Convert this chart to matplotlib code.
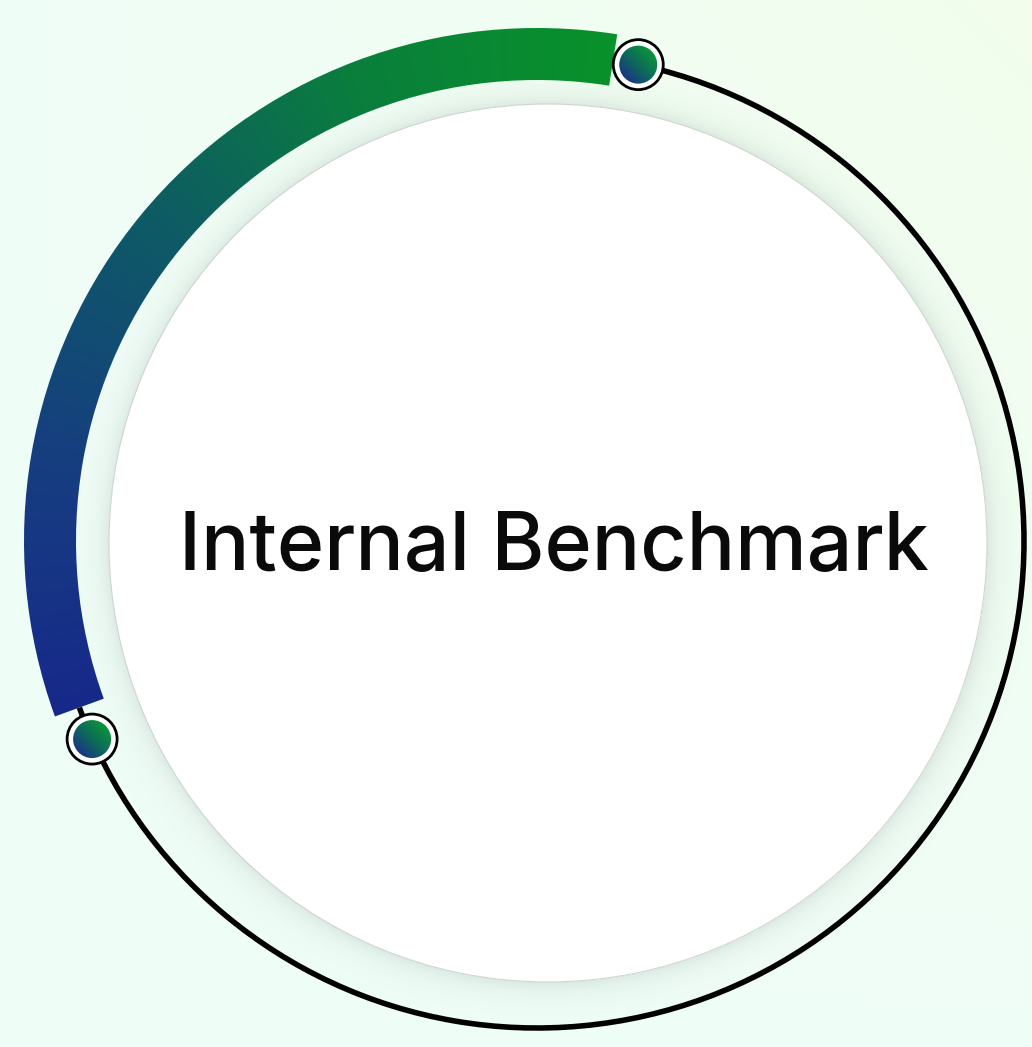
import numpy as np
import matplotlib
matplotlib.use("Agg")
import matplotlib.pyplot as plt
from matplotlib.patches import Wedge, Circle, Arc
from matplotlib.colors import LinearSegmentedColormap

# ---------------- data ----------------
center_label = "Internal Benchmark"
band_start_deg = 81      # green end (top)
band_end_deg = 200       # navy end (lower left)
marker_angles_deg = [78, 204]
band_colors = ["#08922a", "#0a7f3c", "#0e5a66", "#163e80", "#16298a"]
band_color_pos = [0.0, 0.25, 0.5, 0.75, 1.0]

# ---------------- layout ----------------
W, H = 1032, 1047
cx, cy = 537, H - 541          # ring centre (y up)
ring_r = 487
band_w = 52
in_cx, in_cy, in_r = 548, H - 543, 439

fig = plt.figure(figsize=(W / 100, H / 100), dpi=100)
ax = fig.add_axes([0, 0, 1, 1])
ax.axis("off")

# background gradient
yy, xx = np.mgrid[0:H, 0:W]
base = np.array([0.937, 0.993, 0.968])
tr = np.array([0.950, 0.995, 0.925])
w = np.clip((xx / W) * (1 - yy / H), 0, 1)[..., None] ** 1.2
bg = base * (1 - w) + tr * w
ax.imshow(bg, extent=(0, W, 0, H), origin="upper", aspect="auto", zorder=0)

# shadow around inner circle
d = np.hypot(xx - in_cx, (H - yy) - in_cy)
alpha = np.where(d > in_r, 0.20 * np.exp(-(d - in_r) / 12.0), 0.0)
sh = np.zeros((H, W, 4))
sh[..., 0:3] = [0.55, 0.62, 0.59]
sh[..., 3] = alpha
ax.imshow(sh, extent=(0, W, 0, H), origin="upper", aspect="auto", zorder=1)

# inner white disk
ax.add_patch(Circle((in_cx, in_cy), in_r, fc="white", ec="#cfd6d2", lw=0.8, zorder=2))

# black ring (remaining part)
ax.add_patch(Arc((cx, cy), 2 * ring_r, 2 * ring_r, theta1=band_end_deg,
                 theta2=band_start_deg + 360, lw=4.0, color="black", zorder=3))

# gradient band
cmap = LinearSegmentedColormap.from_list("band", list(zip(band_color_pos, band_colors)))
ang = np.degrees(np.arctan2((H - yy) - cy, xx - cx)) % 360
t = np.clip((ang - band_start_deg) / (band_end_deg - band_start_deg), 0, 1)
band_img = ax.imshow(cmap(t), extent=(0, W, 0, H), origin="upper", aspect="auto", zorder=4)
wedge = Wedge((cx, cy), ring_r + band_w / 2, band_start_deg, band_end_deg,
              width=band_w, fc="none", ec="none")
ax.add_patch(wedge)
band_img.set_clip_path(wedge)

# markers
dot_cmap = LinearSegmentedColormap.from_list("dot", ["#1a2f8c", "#0d6a5a", "#0a9a35"])
for a in marker_angles_deg:
    mx = cx + ring_r * np.cos(np.radians(a))
    my = cy + ring_r * np.sin(np.radians(a))
    ax.add_patch(Circle((mx, my), 25, fc="white", ec="black", lw=2.0, zorder=5))
    n = 64
    gy, gx = np.mgrid[0:n, 0:n]
    g = np.clip((gx + (n - 1 - gy)) / (2 * (n - 1)) * 1.3 - 0.15, 0, 1)
    im = ax.imshow(dot_cmap(g), extent=(mx - 20, mx + 20, my - 20, my + 20),
                   origin="upper", aspect="auto", zorder=6)
    c = Circle((mx, my), 19, fc="none", ec="none")
    ax.add_patch(c)
    im.set_clip_path(c)

# centre label
ax.text(554, H - 570, center_label, ha="center", va="baseline", fontsize=58,
        fontweight="medium", family=["Inter", "DejaVu Sans"], color="#0a0a0a", zorder=7)

ax.set_xlim(0, W)
ax.set_ylim(0, H)
fig.savefig("out.png", dpi=100)
